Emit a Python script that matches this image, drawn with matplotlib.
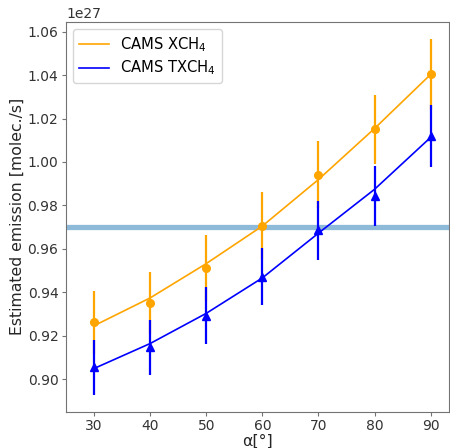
import matplotlib
matplotlib.use("Agg")
import matplotlib.pyplot as plt
import numpy as np

alpha = [30, 40, 50, 60, 70, 80, 90]

# values in units of 1e27 molec./s
xch4_points = [0.9261, 0.9349, 0.9512, 0.9706, 0.9942, 1.0150, 1.0403]
xch4_err = [0.0147, 0.0143, 0.0150, 0.0155, 0.0155, 0.0158, 0.0162]
xch4_fit = [0.9246, 0.9374, 0.9532, 0.9705, 0.9919, 1.0154, 1.0403]

txch4_points = [0.9054, 0.9146, 0.9292, 0.9472, 0.9685, 0.9842, 1.0119]
txch4_err = [0.0128, 0.0127, 0.0131, 0.0131, 0.0135, 0.0139, 0.0143]
txch4_fit = [0.9049, 0.9164, 0.9303, 0.9466, 0.9672, 0.9874, 1.0113]

reference_value = 0.970

scale = 1e27

fig = plt.figure(figsize=(4.5, 4.48), dpi=100)
ax = fig.add_axes([0.1467, 0.081, 0.8513, 0.8706])

ax.axhline(reference_value * scale, color="#1f77b4", alpha=0.5, lw=3.8, zorder=1)

ax.plot(alpha, np.array(xch4_fit) * scale, color="orange", lw=1.2, label="CAMS XCH$_4$", zorder=2)
ax.errorbar(alpha, np.array(xch4_points) * scale, yerr=np.array(xch4_err) * scale,
            fmt="o", color="orange", ms=5.5, elinewidth=1.6, capsize=0, zorder=3)

ax.plot(alpha, np.array(txch4_fit) * scale, color="blue", lw=1.2, label="CAMS TXCH$_4$", zorder=4)
ax.errorbar(alpha, np.array(txch4_points) * scale, yerr=np.array(txch4_err) * scale,
            fmt="^", color="blue", ms=5.5, elinewidth=1.6, capsize=0, zorder=5)

ax.set_xlim(25, 93.3)
ax.set_ylim(0.885 * scale, 1.0646 * scale)
ax.set_xticks([30, 40, 50, 60, 70, 80, 90])
ax.set_yticks(np.array([0.90, 0.92, 0.94, 0.96, 0.98, 1.00, 1.02, 1.04, 1.06]) * scale)

for s in ax.spines.values():
    s.set_color("0.45")
ax.tick_params(colors="0.45", labelcolor="0.2", labelsize=10, length=3, pad=2.5)
ax.yaxis.get_offset_text().set_color("0.2")
ax.yaxis.get_offset_text().set_fontsize(10)

ax.set_xlabel("α[°]", fontsize=11.3, color="0.15", labelpad=0)
ax.set_ylabel("Estimated emission [molec./s]", fontsize=11.3, color="0.15", labelpad=2)

ax.legend(loc="upper left", fontsize=10.6, labelspacing=0.35)

fig.savefig("out.png", dpi=100)
